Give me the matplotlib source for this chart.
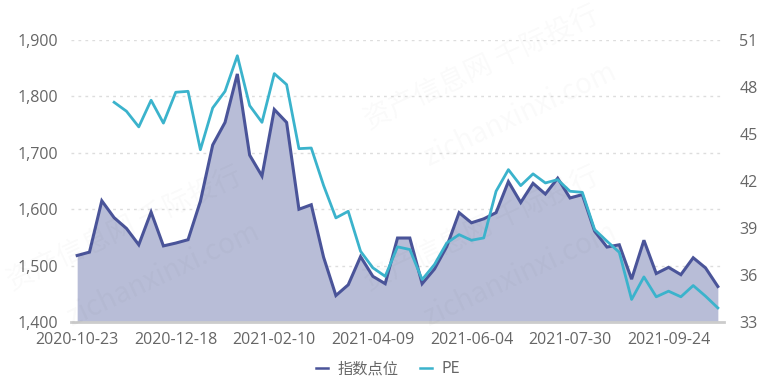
import numpy as np
import matplotlib.pyplot as plt
from matplotlib.lines import Line2D

plt.rcParams['font.family'] = ['Open Sans', 'Noto Sans CJK SC', 'DejaVu Sans']

# weekly dates (category axis)
dates = ['2020-10-23', '2020-10-30', '2020-11-06', '2020-11-13', '2020-11-20', '2020-11-27',
         '2020-12-04', '2020-12-11', '2020-12-18', '2020-12-25', '2020-12-31', '2021-01-08',
         '2021-01-15', '2021-01-22', '2021-01-29', '2021-02-05', '2021-02-10', '2021-02-19',
         '2021-02-26', '2021-03-05', '2021-03-12', '2021-03-19', '2021-03-26', '2021-04-02',
         '2021-04-09', '2021-04-16', '2021-04-23', '2021-04-30', '2021-05-07', '2021-05-14',
         '2021-05-21', '2021-05-28', '2021-06-04', '2021-06-11', '2021-06-18', '2021-06-25',
         '2021-07-02', '2021-07-09', '2021-07-16', '2021-07-23', '2021-07-30', '2021-08-06',
         '2021-08-13', '2021-08-20', '2021-08-27', '2021-09-03', '2021-09-10', '2021-09-17',
         '2021-09-24', '2021-09-30', '2021-10-08', '2021-10-15', '2021-10-22']

index_pts = [1518, 1524, 1615, 1585, 1566, 1537, 1595, 1535, 1540, 1546,
             1614, 1714, 1754, 1840, 1696, 1659, 1777, 1754, 1600, 1608,
             1515, 1447, 1466, 1516, 1481, 1468, 1549, 1549, 1468, 1494,
             1534, 1594, 1576, 1583, 1594, 1649, 1612, 1646, 1627, 1655,
             1620, 1626, 1561, 1533, 1537, 1476, 1545, 1486, 1497, 1484,
             1514, 1496, 1463]

pe = [np.nan, np.nan, np.nan, 47.03, 46.46, 45.46, 47.16, 45.70, 47.67, 47.73,
      44.00, 46.67, 47.73, 50.00, 46.82, 45.75, 48.86, 48.16, 44.07, 44.11,
      41.72, 39.65, 40.07, 37.52, 36.46, 35.92, 37.80, 37.63, 35.71, 36.67,
      38.05, 38.58, 38.22, 38.37, 41.35, 42.73, 41.71, 42.46, 41.88, 42.09,
      41.35, 41.28, 38.90, 38.16, 37.45, 34.44, 35.88, 34.61, 34.97, 34.61,
      35.33, 34.65, 33.90]

left_ticks = [1400, 1500, 1600, 1700, 1800, 1900]
right_ticks = [33, 36, 39, 42, 45, 48, 51]

c_index = '#4a5499'
c_fill = '#b8bdd7'
c_pe = '#3bb3cc'
c_text = '#666666'

fig = plt.figure(figsize=(7.76, 3.82), dpi=100)
ax = fig.add_axes([0.0915, 0.157, 0.8415, 0.738])
ax2 = ax.twinx()

x = np.arange(len(dates))
ax.fill_between(x, 1400, index_pts, color=c_fill, lw=0, zorder=2)
ax.plot(x, index_pts, color=c_index, lw=2.2, zorder=3, solid_joinstyle='miter')
ax2.plot(x, pe, color=c_pe, lw=2.0, zorder=3)

ax.set_xlim(-0.5, len(dates) - 0.5)
ax.set_ylim(1400, 1900)
ax2.set_ylim(33, 51)
ax.set_yticks(left_ticks)
ax.set_yticklabels([f'{v:,}' for v in left_ticks])
ax2.set_yticks(right_ticks)

ax.set_xticks(x[::8])
ax.set_xticklabels(dates[::8])

for a in (ax, ax2):
    for s in a.spines.values():
        s.set_visible(False)
    a.tick_params(length=0, labelsize=11.5, labelcolor=c_text)
ax.tick_params(axis='y', pad=9)
ax.tick_params(axis='x', pad=7)
ax2.tick_params(axis='y', pad=11)

ax.grid(axis='y', color='#dddddd', ls=(0, (2, 3)), lw=1, zorder=1)
ax.axhline(1400, color='#cccccc', lw=2, zorder=4, clip_on=False)
ax.set_axisbelow(True)

handles = [Line2D([], [], color=c_index, lw=1.8),
           Line2D([], [], color=c_pe, lw=1.8)]
fig.legend(handles, ['指数点位', 'PE'], loc='center', bbox_to_anchor=(0.5, 0.035),
           ncol=2, frameon=False, handlelength=0.8, handletextpad=0.6,
           columnspacing=1.4, labelcolor=c_text,
           prop={'family': ['Noto Sans CJK SC', 'DejaVu Sans'], 'size': 11})

# faint watermark
wm = dict(color='#000000', alpha=0.025, rotation=25, ha='center', va='center',
          family=['Noto Sans CJK SC', 'DejaVu Sans'], zorder=10)
for (px, py) in [(0.62, 0.82), (0.16, 0.4), (0.62, 0.4)]:
    fig.text(px, py, '资产信息网 千际投行', fontsize=20, **wm)
    fig.text(px + 0.05, py - 0.12, 'zichanxinxi.com', fontsize=20, **wm)

fig.savefig('out.png', dpi=100)
